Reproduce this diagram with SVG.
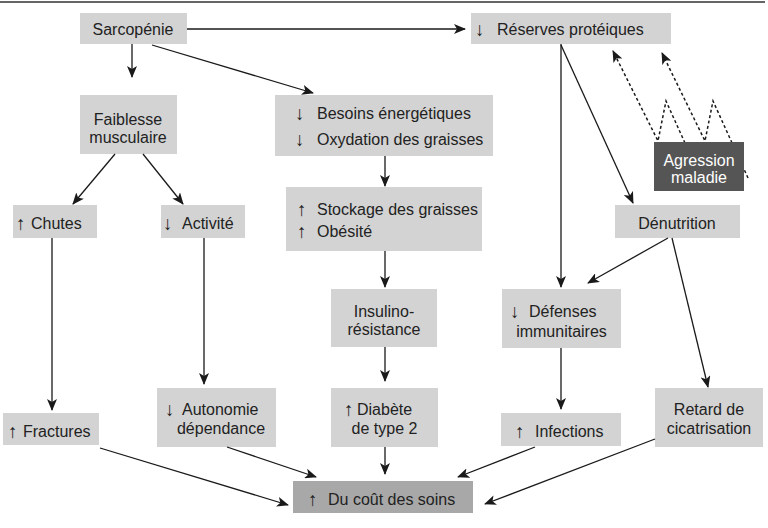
<svg xmlns="http://www.w3.org/2000/svg" width="768" height="528" viewBox="0 0 768 528">
<defs>
<marker id="ah" markerUnits="userSpaceOnUse" markerWidth="12" markerHeight="10" refX="11" refY="5" orient="auto">
<path d="M0,0 L12,5 L0,10 L3,5 z" fill="#1a1a1a"/>
</marker>
</defs>
<style>
.box{fill:#d3d3d3}
.dark{fill:#a8a8a8}
.ag{fill:#555555}
text{font-family:"Liberation Sans",Arial,sans-serif;font-size:16px;fill:#222}
.ar{font-size:19px}
.c{text-anchor:middle}
.w{fill:#ffffff}
.ln{stroke:#1a1a1a;stroke-width:1.3;fill:none;marker-end:url(#ah)}
.ds{stroke:#1a1a1a;stroke-width:1.5;fill:none;stroke-dasharray:3 2.5;marker-end:url(#ah)}
</style>
<rect width="768" height="528" fill="#ffffff"/>
<line x1="0" y1="2" x2="765" y2="2" stroke="#333" stroke-width="1.5"/>

<g id="dashed">
<polyline class="ds" points="685,143 666,101 658,141 613,51"/>
<polyline class="ds" points="748,178 713,101 705,141 662,53"/>
</g>

<g id="n-sarcopenie"><rect class="box" x="80" y="13" width="107" height="31"/><text class="c" x="133" y="35">Sarcopénie</text></g>
<g id="n-reserves"><rect class="box" x="471" y="13" width="200" height="31"/><text x="475" y="36"><tspan class="ar">↓</tspan><tspan x="497" y="35">Réserves protéiques</tspan></text></g>
<g id="n-faiblesse"><rect class="box" x="80" y="95" width="97" height="59"/><text class="c" x="128" y="125">Faiblesse</text><text class="c" x="128" y="143">musculaire</text></g>
<g id="n-besoins"><rect class="box" x="275" y="95" width="218" height="61"/><text x="295" y="120"><tspan class="ar">↓</tspan><tspan x="317" y="119">Besoins énergétiques</tspan></text><text x="295" y="146"><tspan class="ar">↓</tspan><tspan x="317" y="145">Oxydation des graisses</tspan></text></g>
<g id="n-agression"><rect class="ag" x="654" y="142" width="90" height="49"/><text class="c w" x="699" y="166">Agression</text><text class="c w" x="699" y="183">maladie</text></g>
<g id="n-chutes"><rect class="box" x="13" y="205" width="84" height="33"/><text x="16" y="230"><tspan class="ar">↑</tspan><tspan x="31" y="229">Chutes</tspan></text></g>
<g id="n-activite"><rect class="box" x="161" y="205" width="84" height="33"/><text x="163" y="230"><tspan class="ar">↓</tspan><tspan x="182" y="229">Activité</tspan></text></g>
<g id="n-stockage"><rect class="box" x="286" y="187" width="196" height="64"/><text x="297" y="216"><tspan class="ar">↑</tspan><tspan x="317" y="215">Stockage des graisses</tspan></text><text x="297" y="238"><tspan class="ar">↑</tspan><tspan x="317" y="237">Obésité</tspan></text></g>
<g id="n-denutrition"><rect class="box" x="615" y="205" width="125" height="33"/><text class="c" x="677" y="229">Dénutrition</text></g>
<g id="n-insulino"><rect class="box" x="331" y="289" width="106" height="58"/><text class="c" x="384" y="317">Insulino-</text><text class="c" x="384" y="335">résistance</text></g>
<g id="n-defenses"><rect class="box" x="502" y="289" width="119" height="59"/><text x="510" y="318"><tspan class="ar">↓</tspan><tspan x="529" y="317">Défenses</tspan></text><text class="c" x="561.5" y="337">immunitaires</text></g>
<g id="n-fractures"><rect class="box" x="3" y="413" width="96" height="32"/><text x="8" y="438"><tspan class="ar">↑</tspan><tspan x="23" y="437">Fractures</tspan></text></g>
<g id="n-autonomie"><rect class="box" x="157" y="388" width="119" height="59"/><text x="165" y="416"><tspan class="ar">↓</tspan><tspan x="182" y="415">Autonomie</tspan></text><text class="c" x="221" y="434">dépendance</text></g>
<g id="n-diabete"><rect class="box" x="331" y="388" width="107" height="59"/><text x="344" y="416"><tspan class="ar">↑</tspan><tspan x="357" y="415">Diabète</tspan></text><text class="c" x="384.5" y="434">de type 2</text></g>
<g id="n-infections"><rect class="box" x="501" y="413" width="120" height="33"/><text x="515" y="438"><tspan class="ar">↑</tspan><tspan x="535" y="437">Infections</tspan></text></g>
<g id="n-retard"><rect class="box" x="655" y="388" width="108" height="59"/><text class="c" x="709" y="415">Retard de</text><text class="c" x="709" y="434">cicatrisation</text></g>
<g id="n-cout"><rect class="dark" x="293" y="481" width="180" height="32"/><text x="308" y="506"><tspan class="ar">↑</tspan><tspan x="328" y="505">Du coût des soins</tspan></text></g>

<g id="connectors">
<line class="ln" x1="187" y1="29" x2="465" y2="29"/>
<line class="ln" x1="132" y1="44" x2="132" y2="77"/>
<line class="ln" x1="152" y1="45" x2="313" y2="93"/>
<line class="ln" x1="115" y1="154" x2="73" y2="204"/>
<line class="ln" x1="143" y1="154" x2="183" y2="204"/>
<line class="ln" x1="385" y1="156" x2="385" y2="186"/>
<line class="ln" x1="385" y1="251" x2="385" y2="287"/>
<line class="ln" x1="385" y1="347" x2="385" y2="381"/>
<line class="ln" x1="385" y1="447" x2="385" y2="474"/>
<line class="ln" x1="52" y1="238" x2="52" y2="410"/>
<line class="ln" x1="204" y1="238" x2="204" y2="384"/>
<line class="ln" x1="561" y1="44" x2="561" y2="287"/>
<line class="ln" x1="561" y1="45" x2="633" y2="203"/>
<line class="ln" x1="668" y1="238" x2="588" y2="283"/>
<line class="ln" x1="672" y1="238" x2="708" y2="387"/>
<line class="ln" x1="561" y1="348" x2="561" y2="409"/>
<line class="ln" x1="100" y1="448" x2="288" y2="505"/>
<line class="ln" x1="227" y1="447" x2="316" y2="477"/>
<line class="ln" x1="535" y1="447" x2="458" y2="477"/>
<line class="ln" x1="655" y1="439" x2="485" y2="504"/>
</g>
</svg>
